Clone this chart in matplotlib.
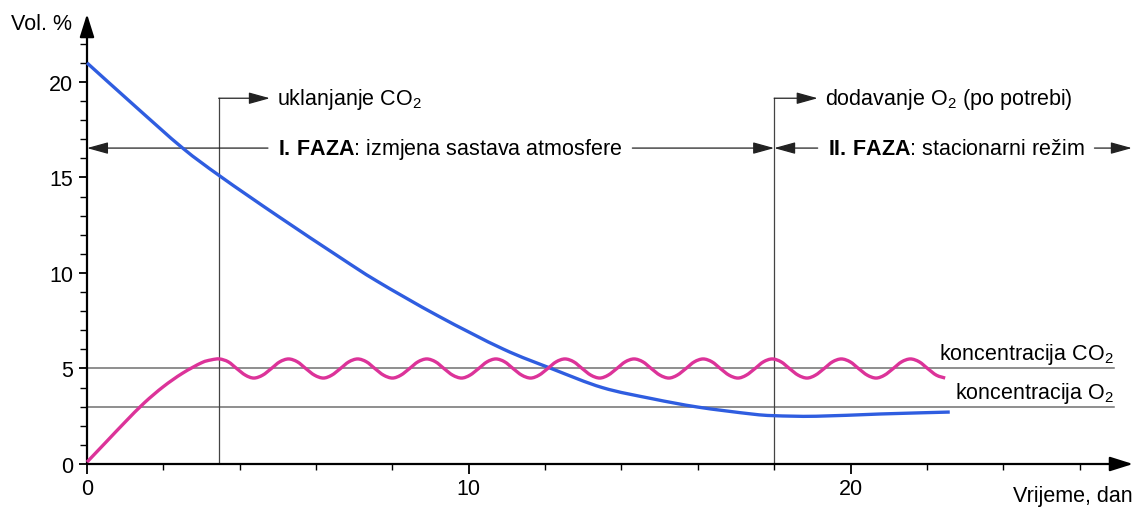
import matplotlib
matplotlib.use("Agg")
import matplotlib.pyplot as plt
from matplotlib.path import Path
from matplotlib.patches import PathPatch

plt.rcParams['font.family'] = ['Liberation Sans', 'DejaVu Sans']
plt.rcParams['mathtext.fontset'] = 'custom'
plt.rcParams['mathtext.rm'] = 'Liberation Sans'
plt.rcParams['mathtext.bf'] = 'Liberation Sans:bold'
plt.rcParams['mathtext.it'] = 'Liberation Sans:italic'
plt.rcParams['mathtext.default'] = 'regular'

# ---------------- data ----------------
O2_X = [0, 1.25, 2.5, 3.5, 5.0, 6.6, 7.6, 9.2, 10.9, 12.2, 13.5, 14.8, 16.0, 17.4, 18.0, 19.1, 20.8, 22.6]
O2_Y = [21.0, 18.75, 16.55, 15.05, 12.98, 10.85, 9.57, 7.75, 6.02, 4.97, 4.0, 3.42, 2.98, 2.62, 2.53, 2.5, 2.62, 2.72]

CO2_X = [0, 0.5, 1.0, 1.5, 2.0, 2.5, 3.0, 3.25,
         3.47, 3.70, 3.92, 4.15, 4.37, 4.60, 4.83, 5.05,
         5.28, 5.51, 5.73, 5.96, 6.19, 6.41, 6.64, 6.86,
         7.09, 7.32, 7.54, 7.77, 8.00, 8.22, 8.45, 8.67,
         8.90, 9.13, 9.35, 9.58, 9.81, 10.03, 10.26, 10.48,
         10.71, 10.94, 11.16, 11.39, 11.62, 11.84, 12.07, 12.29,
         12.52, 12.75, 12.97, 13.20, 13.43, 13.65, 13.88, 14.10,
         14.33, 14.56, 14.78, 15.01, 15.24, 15.46, 15.69, 15.91,
         16.14, 16.37, 16.59, 16.82, 17.05, 17.27, 17.50, 17.72,
         17.95, 18.18, 18.40, 18.63, 18.86, 19.08, 19.31, 19.53,
         19.76, 19.99, 20.21, 20.44, 20.67, 20.89, 21.12, 21.34,
         21.57, 21.80, 22.02, 22.25, 22.48]
CO2_Y = [0.1, 1.15, 2.2, 3.2, 4.05, 4.75, 5.3, 5.45,
         5.5, 5.35, 5.0, 4.65, 4.5, 4.65, 5.0, 5.35,
         5.5, 5.35, 5.0, 4.65, 4.5, 4.65, 5.0, 5.35,
         5.5, 5.35, 5.0, 4.65, 4.5, 4.65, 5.0, 5.35,
         5.5, 5.35, 5.0, 4.65, 4.5, 4.65, 5.0, 5.35,
         5.5, 5.35, 5.0, 4.65, 4.5, 4.65, 5.0, 5.35,
         5.5, 5.35, 5.0, 4.65, 4.5, 4.65, 5.0, 5.35,
         5.5, 5.35, 5.0, 4.65, 4.5, 4.65, 5.0, 5.35,
         5.5, 5.35, 5.0, 4.65, 4.5, 4.65, 5.0, 5.35,
         5.5, 5.35, 5.0, 4.65, 4.5, 4.65, 5.0, 5.35,
         5.5, 5.35, 5.0, 4.65, 4.5, 4.65, 5.0, 5.35,
         5.5, 5.35, 5.0, 4.65, 4.5]

CO2_LEVEL = 5
O2_LEVEL = 3
T_CO2_REMOVAL = 3.45
T_PHASE2 = 18.0

X_MAJOR = [0, 10, 20]
X_MINOR = [2, 4, 6, 8, 12, 14, 16, 18, 22, 24, 26]
Y_MAJOR = [0, 5, 10, 15, 20]
Y_MINOR = [1, 2, 3, 4, 6, 7, 8, 9, 11, 12, 13, 14, 16, 17, 18, 19, 21, 22]

BLUE = '#2f5de0'
MAGENTA = '#dc3399'
FS = 15.5


def smooth_path(xs, ys):
    """Catmull-Rom curve through the given points, expressed as cubic Bezier path."""
    pts = list(zip(xs, ys))
    n = len(pts)
    verts = [pts[0]]
    codes = [Path.MOVETO]
    for i in range(n - 1):
        p0 = pts[i - 1] if i > 0 else pts[i]
        p1 = pts[i]
        p2 = pts[i + 1]
        p3 = pts[i + 2] if i + 2 < n else pts[i + 1]
        c1 = (p1[0] + (p2[0] - p0[0]) / 6, p1[1] + (p2[1] - p0[1]) / 6)
        c2 = (p2[0] - (p3[0] - p1[0]) / 6, p2[1] - (p3[1] - p1[1]) / 6)
        verts += [c1, c2, p2]
        codes += [Path.CURVE4] * 3
    return Path(verts, codes)


# ---------------- figure ----------------
fig = plt.figure(figsize=(11.35, 5.10), dpi=100)
ax = fig.add_axes([87 / 1135, 45 / 510, 1046 / 1135, 450 / 510])
XMAX, YMAX = 27.4, 23.56
ax.set_xlim(0, XMAX)
ax.set_ylim(0, YMAX)
for s in ax.spines.values():
    s.set_visible(False)

# axes with arrows
ax.annotate('', xy=(XMAX, 0), xytext=(0, 0), annotation_clip=False,
            arrowprops=dict(arrowstyle='-|>,head_length=0.7,head_width=0.22', mutation_scale=20,
                            lw=1.6, color='k', shrinkA=0, shrinkB=0))
ax.annotate('', xy=(0, YMAX), xytext=(0, 0), annotation_clip=False,
            arrowprops=dict(arrowstyle='-|>,head_length=0.7,head_width=0.22', mutation_scale=20,
                            lw=1.6, color='k', shrinkA=0, shrinkB=0))

ax.set_xticks(X_MAJOR)
ax.set_xticks(X_MINOR, minor=True)
ax.set_yticks(Y_MAJOR)
ax.set_yticks(Y_MINOR, minor=True)
ax.tick_params(axis='x', which='major', direction='out', length=7, width=1.3, pad=3, labelsize=FS)
ax.tick_params(axis='x', which='minor', direction='out', length=4, width=1.0)
ax.tick_params(axis='y', which='major', direction='out', length=6, width=1.3, pad=4, labelsize=FS)
ax.tick_params(axis='y', which='minor', direction='out', length=5, width=1.0)

# reference levels
ax.plot([0, 26.9], [CO2_LEVEL, CO2_LEVEL], color='#707070', lw=1.1, zorder=1)
ax.plot([0, 26.9], [O2_LEVEL, O2_LEVEL], color='#707070', lw=1.1, zorder=1)
ax.annotate(r'koncentracija CO$_2$', xy=(26.9, CO2_LEVEL), xytext=(0, 6.5), textcoords='offset points',
            ha='right', va='baseline', fontsize=FS)
ax.annotate(r'koncentracija O$_2$', xy=(26.9, O2_LEVEL), xytext=(0, 6), textcoords='offset points',
            ha='right', va='baseline', fontsize=FS)

# vertical markers
Y_TOP = 19.15
ARROW_SMALL = dict(arrowstyle='-|>,head_length=0.65,head_width=0.18', mutation_scale=20,
                   lw=0.9, color='#222222', shrinkA=0, shrinkB=0)
for xv, xe, label in [(T_CO2_REMOVAL, 4.79, r'uklanjanje CO$_2$'),
                      (T_PHASE2, 19.14, r'dodavanje O$_2$ (po potrebi)')]:
    ax.plot([xv, xv], [0, Y_TOP], color='#444444', lw=0.9, zorder=1)
    ax.annotate('', xy=(xe, Y_TOP), xytext=(xv, Y_TOP), arrowprops=ARROW_SMALL)
    ax.text(xe + 0.2, Y_TOP, label, ha='left', va='center', fontsize=FS)

# phase arrows
Y_PH = 16.54
t1 = ax.text(5.0, Y_PH, r'$\mathbf{I.\,FAZA}$: izmjena sastava atmosfere', ha='left', va='center', fontsize=FS)
t2 = ax.text(19.4, Y_PH, r'$\mathbf{II.\,FAZA}$: stacionarni režim', ha='left', va='center', fontsize=FS)
fig.canvas.draw()
r = fig.canvas.get_renderer()
inv = ax.transData.inverted()
gap = 10
e1 = t1.get_window_extent(r)
e2 = t2.get_window_extent(r)
x1r = inv.transform((e1.x1 + gap, 0))[0]
x2r = inv.transform((e2.x1 + gap, 0))[0]
ax.annotate('', xy=(0, Y_PH), xytext=(4.74, Y_PH), arrowprops=ARROW_SMALL, annotation_clip=False)
ax.annotate('', xy=(T_PHASE2, Y_PH), xytext=(x1r, Y_PH), arrowprops=ARROW_SMALL)
ax.annotate('', xy=(T_PHASE2, Y_PH), xytext=(19.14, Y_PH), arrowprops=ARROW_SMALL)
ax.annotate('', xy=(27.37, Y_PH), xytext=(x2r, Y_PH), arrowprops=ARROW_SMALL, annotation_clip=False)

# curves
for xs, ys, col in [(O2_X, O2_Y, BLUE), (CO2_X, CO2_Y, MAGENTA)]:
    patch = PathPatch(smooth_path(xs, ys), facecolor='none', edgecolor=col, lw=2.4,
                      capstyle='butt', zorder=3, clip_on=False)
    ax.add_patch(patch)

# axis titles
fig.text(72 / 1135, 1 - 24 / 510, 'Vol. %', ha='right', va='center', fontsize=FS)
fig.text(1133 / 1135, 1 - 497 / 510, 'Vrijeme, dan', ha='right', va='center', fontsize=FS)

fig.savefig('out.png', dpi=100)
